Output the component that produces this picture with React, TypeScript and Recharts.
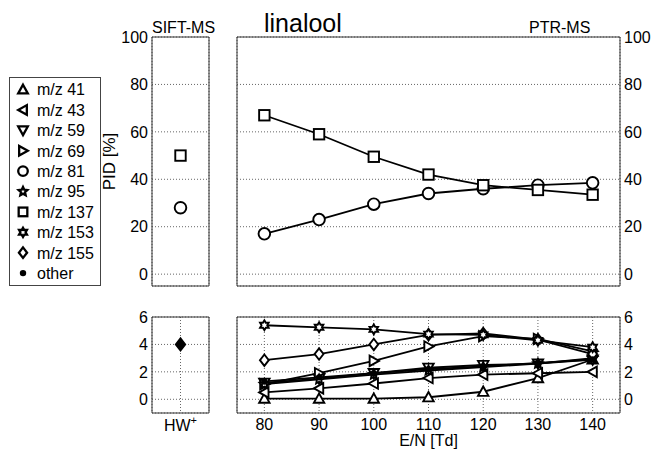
import React from 'react';
import { LineChart, Line, XAxis, YAxis, CartesianGrid, ReferenceArea } from 'recharts';

// E/N values of the PTR-MS runs
const enTd = [80, 90, 100, 110, 120, 130, 140];

// top panel, PID [%]
const pid137 = [67, 59, 49.5, 42, 37.5, 35.5, 33.5];
const pid81 = [17, 23, 29.5, 34, 36, 37.5, 38.5];

// bottom panel, PID [%]
const mz41 = [0.05, 0.05, 0.05, 0.15, 0.55, 1.55, 2.9];
const mz43 = [0.5, 0.8, 1.15, 1.55, 1.8, 1.9, 2.0];
const mz59 = [1.2, 1.5, 1.9, 2.3, 2.5, 2.6, 2.9];
const mz69 = [1.1, 1.9, 2.8, 3.85, 4.6, 4.4, 3.5];
const mz95 = [1.1, 1.45, 1.8, 2.1, 2.35, 2.6, 3.0];
const mz153 = [5.4, 5.25, 5.1, 4.75, 4.7, 4.3, 3.8];
const mz155 = [2.85, 3.3, 4.0, 4.7, 4.8, 4.35, 3.3];
const other = [1.3, 1.6, 1.9, 2.2, 2.4, 2.65, 2.9];

// SIFT-MS (HW+ precursor)
const siftIon = ['HW+'];
const sift137 = [50];
const sift81 = [28];
const siftOther = [4];

const legendItems = [
  { label: 'm/z 41', shape: 'up' },
  { label: 'm/z 43', shape: 'left' },
  { label: 'm/z 59', shape: 'down' },
  { label: 'm/z 69', shape: 'right' },
  { label: 'm/z 81', shape: 'circle' },
  { label: 'm/z 95', shape: 'penta' },
  { label: 'm/z 137', shape: 'square' },
  { label: 'm/z 153', shape: 'hexa' },
  { label: 'm/z 155', shape: 'diamond' },
  { label: 'other', shape: 'dot' },
];

const font = '"Liberation Sans", Arial, Helvetica, sans-serif';
const tickStyle = { fontSize: 16, fill: '#000', fontFamily: font };

const rows = enTd.map((x, i) => ({
  x,
  pid137: pid137[i],
  pid81: pid81[i],
  mz41: mz41[i],
  mz43: mz43[i],
  mz59: mz59[i],
  mz69: mz69[i],
  mz95: mz95[i],
  mz153: mz153[i],
  mz155: mz155[i],
  other: other[i],
}));

const siftRows = siftIon.map((ion, i) => ({
  ion,
  pid137: sift137[i],
  pid81: sift81[i],
  other: siftOther[i],
}));

const starPoints = (cx: number, cy: number, n: number, ro: number, ri: number) => {
  const pts: string[] = [];
  for (let k = 0; k < n * 2; k++) {
    const r = k % 2 === 0 ? ro : ri;
    const a = -Math.PI / 2 + (k * Math.PI) / n;
    pts.push(`${cx + r * Math.cos(a)},${cy + r * Math.sin(a)}`);
  }
  return pts.join(' ');
};

const Marker = ({ shape, cx, cy, s = 5.5, sw = 1.9, filled = false }: any) => {
  const p = { stroke: '#000', strokeWidth: sw, fill: filled ? '#000' : '#fff', strokeLinejoin: 'miter' as const };
  switch (shape) {
    case 'up':
      return <polygon {...p} points={`${cx},${cy - s} ${cx + s},${cy + s * 0.8} ${cx - s},${cy + s * 0.8}`} />;
    case 'down':
      return <polygon {...p} points={`${cx},${cy + s} ${cx + s},${cy - s * 0.8} ${cx - s},${cy - s * 0.8}`} />;
    case 'left':
      return <polygon {...p} points={`${cx - s},${cy} ${cx + s * 0.8},${cy - s} ${cx + s * 0.8},${cy + s}`} />;
    case 'right':
      return <polygon {...p} points={`${cx + s},${cy} ${cx - s * 0.8},${cy - s} ${cx - s * 0.8},${cy + s}`} />;
    case 'circle':
      return <circle {...p} cx={cx} cy={cy} r={s} />;
    case 'square':
      return <rect {...p} x={cx - s * 0.9} y={cy - s * 0.9} width={s * 1.8} height={s * 1.8} />;
    case 'diamond':
      return <polygon {...p} points={`${cx},${cy - s * 1.1} ${cx + s * 0.85},${cy} ${cx},${cy + s * 1.1} ${cx - s * 0.85},${cy}`} />;
    case 'penta':
      return <polygon {...p} points={starPoints(cx, cy, 5, s * 0.95, s * 0.45)} />;
    case 'hexa':
      return <polygon {...p} points={starPoints(cx, cy, 6, s * 0.95, s * 0.55)} />;
    case 'dot':
      return <circle cx={cx} cy={cy} r={3.2} fill="#000" />;
    default:
      return null;
  }
};

const renderDot = (shape: string, filled = false, s = 5.8) => (props: any) => {
  const { cx, cy, index } = props;
  if (cx == null || cy == null) return <g key={`${shape}-${index}`} />;
  return (
    <g key={`${shape}-${index}`}>
      <Marker shape={shape} cx={cx} cy={cy} s={s} filled={filled} />
    </g>
  );
};

const HwTick = (props: any) => {
  const { x, y } = props;
  return (
    <text x={x} y={y + 12} textAnchor="middle" fontSize={16} fontFamily={font} fill="#000">
      HW<tspan fontSize={11} dy={-7}>+</tspan>
    </text>
  );
};

const bottomSeries = [
  { key: 'mz41', shape: 'up' },
  { key: 'mz43', shape: 'left' },
  { key: 'mz59', shape: 'down' },
  { key: 'mz69', shape: 'right' },
  { key: 'mz95', shape: 'penta' },
  { key: 'mz155', shape: 'diamond' },
  { key: 'other', shape: 'dot' },
  { key: 'mz153', shape: 'hexa' },
];

const gridProps = { strokeDasharray: '1 2', stroke: '#666', strokeWidth: 1 };
const frameColor = '#333';

export default function App() {
  return (
    <div style={{ position: 'absolute', left: 0, top: 0, width: 653, height: 449, background: '#fff', fontFamily: font }}>
      <svg width={653} height={449} style={{ position: 'absolute', left: 0, top: 0 }}>
        <text x={152} y={33} fontSize={16} fontFamily={font} fill="#000">SIFT-MS</text>
        <text x={264} y={32} fontSize={25} fontFamily={font} fill="#000">linalool</text>
        <text x={529} y={33} fontSize={16} fontFamily={font} fill="#000">PTR-MS</text>
        <rect x={9.5} y={77.5} width={91} height={208} fill="#fff" stroke="#444" strokeWidth={1} />
        {legendItems.map((it, i) => {
          const cy = 89.5 + i * 20.4;
          return (
            <g key={it.label}>
              <Marker shape={it.shape} cx={23} cy={cy} s={4.8} sw={2.3} />
              <text x={37} y={cy + 5.8} fontSize={16} fontFamily={font} fill="#000">{it.label}</text>
            </g>
          );
        })}
      </svg>

      {/* SIFT-MS, top */}
      <div style={{ position: 'absolute', left: 88, top: 27 }}>
        <LineChart width={126} height={269} data={siftRows} margin={{ top: 10, right: 5, bottom: 10, left: 0 }}>
          <CartesianGrid {...gridProps} />
          <XAxis dataKey="ion" type="category" tick={false} tickLine={false} axisLine={false} height={0} />
          <YAxis
            type="number"
            domain={[-5, 100]}
            ticks={[0, 20, 40, 60, 80, 100]}
            width={64}
            tick={tickStyle}
            tickLine={false}
            tickSize={2}
            axisLine={false}
            label={{ value: 'PID [%]', angle: -90, position: 'insideLeft', offset: 21, style: { fontSize: 17, fill: '#000', fontFamily: font, textAnchor: 'middle' } }}
          />
          <ReferenceArea y1={-5} y2={100} fill="none" stroke={frameColor} strokeWidth={1} fillOpacity={0} />
          <Line dataKey="pid137" stroke="none" dot={renderDot('square')} isAnimationActive={false} />
          <Line dataKey="pid81" stroke="none" dot={renderDot('circle')} isAnimationActive={false} />
        </LineChart>
      </div>

      {/* PTR-MS, top */}
      <div style={{ position: 'absolute', left: 232, top: 27 }}>
        <LineChart width={433} height={269} data={rows} margin={{ top: 10, right: 0, bottom: 10, left: 5 }}>
          <CartesianGrid {...gridProps} />
          <XAxis dataKey="x" type="number" domain={[75, 145]} ticks={enTd} tick={false} tickLine={false} axisLine={false} height={0} />
          <YAxis
            orientation="right"
            type="number"
            domain={[-5, 100]}
            ticks={[0, 20, 40, 60, 80, 100]}
            width={45}
            tick={tickStyle}
            tickLine={false}
            tickSize={2}
            axisLine={false}
          />
          <ReferenceArea x1={75} x2={145} y1={-5} y2={100} fill="none" stroke={frameColor} strokeWidth={1} fillOpacity={0} />
          <Line dataKey="pid81" stroke="#000" strokeWidth={1.8} dot={renderDot('circle')} isAnimationActive={false} />
          <Line dataKey="pid137" stroke="#000" strokeWidth={1.8} dot={renderDot('square')} isAnimationActive={false} />
        </LineChart>
      </div>

      {/* SIFT-MS, bottom */}
      <div style={{ position: 'absolute', left: 102, top: 307 }}>
        <LineChart width={112} height={142} data={siftRows} margin={{ top: 10, right: 5, bottom: 0, left: 0 }}>
          <CartesianGrid {...gridProps} />
          <XAxis dataKey="ion" type="category" tick={<HwTick />} tickLine={false} tickSize={4} axisLine={false} height={36} />
          <YAxis
            type="number"
            domain={[-1, 6]}
            ticks={[0, 2, 4, 6]}
            width={50}
            tick={tickStyle}
            tickLine={false}
            tickSize={2}
            axisLine={false}
          />
          <ReferenceArea y1={-1} y2={6} fill="none" stroke={frameColor} strokeWidth={1} fillOpacity={0} />
          <Line dataKey="other" stroke="none" dot={renderDot('diamond', true, 5.5)} isAnimationActive={false} />
        </LineChart>
      </div>

      {/* PTR-MS, bottom */}
      <div style={{ position: 'absolute', left: 232, top: 307 }}>
        <LineChart width={433} height={142} data={rows} margin={{ top: 10, right: 0, bottom: 0, left: 5 }}>
          <CartesianGrid {...gridProps} />
          <XAxis
            dataKey="x"
            type="number"
            domain={[75, 145]}
            ticks={enTd}
            tick={tickStyle}
            tickLine={false}
            tickSize={4}
            axisLine={false}
            height={36}
            label={{ value: 'E/N [Td]', position: 'insideBottom', offset: 3, style: { fontSize: 16, fill: '#000', fontFamily: font } }}
          />
          <YAxis
            orientation="right"
            type="number"
            domain={[-1, 6]}
            ticks={[0, 2, 4, 6]}
            width={45}
            tick={tickStyle}
            tickLine={false}
            tickSize={2}
            axisLine={false}
          />
          <ReferenceArea x1={75} x2={145} y1={-1} y2={6} fill="none" stroke={frameColor} strokeWidth={1} fillOpacity={0} />
          {bottomSeries.map((s) => (
            <Line
              key={s.key}
              dataKey={s.key}
              stroke="#000"
              strokeWidth={1.8}
              dot={renderDot(s.shape, false, 5.2)}
              isAnimationActive={false}
            />
          ))}
        </LineChart>
      </div>
    </div>
  );
}
